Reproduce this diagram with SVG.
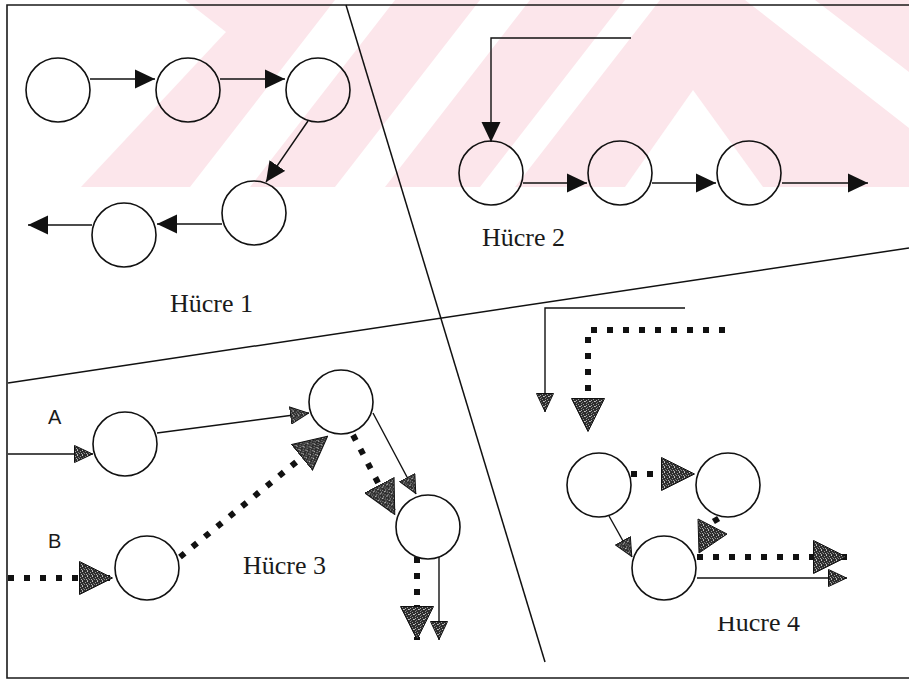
<svg xmlns="http://www.w3.org/2000/svg" width="909" height="682" viewBox="0 0 909 682">
  <style>
    .mark{fill:#fce6eb}
    .gap{fill:#ffffff}
    .frame{fill:none;stroke:#1a1a1a;stroke-width:1.6}
    .split{fill:none;stroke:#111;stroke-width:1.5}
    .node{fill:none;stroke:#111;stroke-width:1.6}
    .link{fill:none;stroke:#111;stroke-width:1.4}
    .dots{fill:none;stroke:#111;stroke-width:6;stroke-dasharray:6 10}
    .cell{font-family:"Liberation Serif","Times New Roman",serif;font-size:26px;fill:#1a1a1a}
    .tag{font-family:"Liberation Sans",Arial,sans-serif;font-size:20px;fill:#1a1a1a}
    .grainy{fill:url(#grain);stroke:#111;stroke-width:1}
  </style>
  <defs>
    <!-- speckled dark fill used by the grey arrowheads -->
    <pattern id="grain" patternUnits="userSpaceOnUse" width="5" height="5">
      <rect width="5" height="5" fill="#2e2e2e"/>
      <rect x="1" y="1" width="1" height="1" fill="#9a9a9a"/>
      <rect x="3" y="0" width="1" height="1" fill="#c8c8c8"/>
      <rect x="0" y="3" width="1" height="1" fill="#8a8a8a"/>
      <rect x="2" y="3" width="1" height="1" fill="#b0b0b0"/>
      <rect x="4" y="2" width="1" height="1" fill="#777"/>
      <rect x="3" y="4" width="1" height="1" fill="#a5a5a5"/>
    </pattern>
    <!-- solid black head -->
    <marker id="ah" markerUnits="userSpaceOnUse" viewBox="0 0 20 20" refX="20" refY="10" markerWidth="20" markerHeight="20" orient="auto">
      <path d="M0,0.5 L20,10 L0,19.5 z" fill="#111"/>
    </marker>
    <!-- small speckled head -->
    <marker id="ahs" markerUnits="userSpaceOnUse" viewBox="0 0 19 18" refX="19" refY="9" markerWidth="19" markerHeight="18" orient="auto">
      <path d="M0.5,0.5 L18.5,9 L0.5,17.5 z" class="grainy"/>
    </marker>
    <!-- large speckled head for dotted flows -->
    <marker id="ahl" markerUnits="userSpaceOnUse" viewBox="0 0 34 34" refX="34" refY="17" markerWidth="34" markerHeight="34" orient="auto">
      <path d="M0.5,0.5 L33.5,17 L0.5,33.5 z" class="grainy"/>
    </marker>
    <clipPath id="cut4">
      <rect x="700" y="617" width="130" height="30"/>
    </clipPath>
  </defs>

  <rect width="909" height="682" fill="#ffffff"/>

  <!-- pale striped logo band across the top -->
  <g id="logo-band">
    <rect class="mark" x="0" y="0" width="909" height="187"/>
    <polygon class="gap" points="0,0 185,0 226,32 81,187 0,187"/>
    <polygon class="gap" points="190,187 250,187 395,0 335,0"/>
    <polygon class="gap" points="335,187 385,187 530,0 480,0"/>
    <polygon class="gap" points="480,187 515,187 660,0 625,0"/>
    <polygon class="gap" points="693,90 763,187 625,187"/>
    <polygon class="gap" points="745,0 815,0 909,72 909,128"/>
  </g>

  <!-- outer frame and the two lines dividing the cells -->
  <g id="frame">
    <path class="frame" d="M909,5 H7 V678 H909"/>
    <path class="split" d="M346,5 L545,662"/>
    <path class="split" d="M8,383 L909,248"/>
  </g>

  <!-- cell 1 -->
  <g id="c1-n1"><circle class="node" cx="58" cy="90" r="32"/></g>
  <g id="c1-n2"><circle class="node" cx="188" cy="90" r="32"/></g>
  <g id="c1-n3"><circle class="node" cx="318" cy="90" r="32"/></g>
  <g id="c1-n4"><circle class="node" cx="254" cy="213" r="32"/></g>
  <g id="c1-n5"><circle class="node" cx="124" cy="235" r="32"/></g>

  <!-- cell 2 -->
  <g id="c2-n1"><circle class="node" cx="491" cy="173" r="32"/></g>
  <g id="c2-n2"><circle class="node" cx="620" cy="173" r="32"/></g>
  <g id="c2-n3"><circle class="node" cx="749" cy="173" r="32"/></g>

  <!-- cell 3 -->
  <g id="c3-a1"><circle class="node" cx="125" cy="444" r="32"/></g>
  <g id="c3-a2"><circle class="node" cx="341" cy="402" r="32"/></g>
  <g id="c3-a3"><circle class="node" cx="428" cy="527" r="32"/></g>
  <g id="c3-b1"><circle class="node" cx="147" cy="568" r="32"/></g>

  <!-- cell 4 -->
  <g id="c4-d1"><circle class="node" cx="599" cy="485" r="32"/></g>
  <g id="c4-d2"><circle class="node" cx="728" cy="485" r="32"/></g>
  <g id="c4-d3"><circle class="node" cx="664" cy="568" r="32"/></g>

  <!-- connectors -->
  <g id="connectors">
    <!-- cell 1 chain -->
    <path class="link" d="M90,79 L155,79" marker-end="url(#ah)"/>
    <path class="link" d="M220,79 L285,79" marker-end="url(#ah)"/>
    <path class="link" d="M308,121 L266,182" marker-end="url(#ah)"/>
    <path class="link" d="M222,224 L157,224" marker-end="url(#ah)"/>
    <path class="link" d="M92,225 L28,225" marker-end="url(#ah)"/>

    <!-- cell 2 chain -->
    <path class="link" d="M631,38 H491 V142" marker-end="url(#ah)"/>
    <path class="link" d="M523,183 H587" marker-end="url(#ah)"/>
    <path class="link" d="M652,183 H716" marker-end="url(#ah)"/>
    <path class="link" d="M782,183 H868" marker-end="url(#ah)"/>

    <!-- cell 3: flow A (solid) -->
    <path class="link" d="M8,454 H93" marker-end="url(#ahs)"/>
    <path class="link" d="M157,433 L309,413" marker-end="url(#ahs)"/>
    <path class="link" d="M373,413 L416,494" marker-end="url(#ahs)"/>
    <path class="link" d="M439,557 V640" marker-end="url(#ahs)"/>

    <!-- cell 3: flow B (dotted) -->
    <path class="dots" d="M8,578 H113" marker-end="url(#ahl)"/>
    <path class="dots" d="M180,557 L328,436" marker-end="url(#ahl)"/>
    <path class="dots" d="M353,435 L395,515" marker-end="url(#ahl)"/>
    <path class="dots" d="M417,557 V640" marker-end="url(#ahl)"/>

    <!-- cell 4: incoming flows -->
    <path class="link" d="M685,308 H545 V412" marker-end="url(#ahs)"/>
    <path class="dots" d="M725,330 H588 V432" marker-end="url(#ahl)"/>

    <!-- cell 4: internal and outgoing flows -->
    <path class="dots" d="M631,474 H695" marker-end="url(#ahl)"/>
    <path class="link" d="M609,516 L632,557" marker-end="url(#ahs)"/>
    <polygon class="grainy" points="698,519 727,534 699,553"/>
    <rect x="713" y="517" width="6" height="6" fill="#111" transform="rotate(-30 716 520)"/>
    <path class="dots" d="M697,557 H847" marker-end="url(#ahl)"/>
    <path class="link" d="M697,578 H847" marker-end="url(#ahs)"/>
  </g>

  <!-- labels -->
  <g id="labels">
    <text class="cell" x="170" y="312">Hücre 1</text>
    <text class="cell" x="482" y="246">Hücre 2</text>
    <text class="cell" x="243" y="574">Hücre 3</text>
    <text class="cell" x="717" y="631" clip-path="url(#cut4)">Hücre 4</text>
    <text class="tag" x="48" y="424">A</text>
    <text class="tag" x="48" y="548">B</text>
  </g>
</svg>
